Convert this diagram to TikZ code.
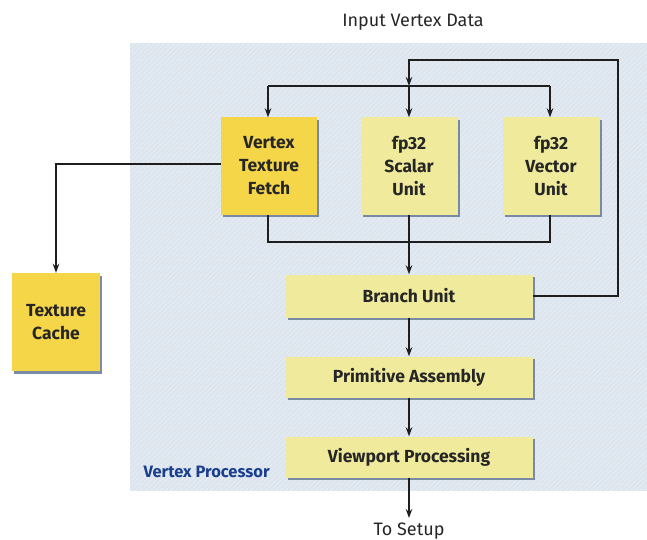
\documentclass[tikz,border=0pt]{standalone}
\usepackage{fontspec}
\setmainfont{Fira Sans}
\usetikzlibrary{arrows.meta,shadows,patterns}
\definecolor{panelblue}{HTML}{DCE5EE}
\definecolor{strongyellow}{HTML}{F6D649}
\definecolor{paleyellow}{HTML}{F0EB9C}
\definecolor{shadowblue}{HTML}{6F7F9C}
\definecolor{vpblue}{HTML}{1B3F8F}
\definecolor{linecol}{HTML}{1E1E1E}
\tikzset{
  unit/.style={draw=none, align=center, font=\fontsize{17.5}{23}\selectfont\bfseries, text=black!85,
    drop shadow={shadow xshift=2pt, shadow yshift=-2.5pt, fill=shadowblue, opacity=0.9}},
  hotunit/.style={unit, fill=strongyellow},
  paleunit/.style={unit, fill=paleyellow},
  conn/.style={draw=linecol, line width=1.4pt},
  arr/.style={conn, -{Stealth[length=9pt,width=6.5pt]}},
  plain/.style={font=\fontsize{18}{20}\selectfont, text=black!85}
}
\begin{document}
\begin{tikzpicture}[x=1pt,y=-1pt]
\useasboundingbox (0,0) rectangle (647,540);
% panel
\fill[panelblue] (130,43) rectangle (647,491);
\begin{scope}
\clip (130,43) rectangle (647,491);
\foreach \i in {0,5,...,1000} {
  \draw[white, opacity=0.35, line width=0.8pt] (130+\i-460,491) -- (130+\i,43);
}
\end{scope}
\node[plain] (input) at (413,22) {Input Vertex Data};
\node[font=\fontsize{16.5}{18}\selectfont\bfseries, text=vpblue, anchor=west] (vp) at (140,472) {Vertex Processor};
% units
\node[hotunit, minimum width=96pt, minimum height=97pt] (vtf) at (269,166) {Vertex\\Texture\\Fetch};
\node[paleunit, minimum width=97pt, minimum height=97pt] (scal) at (409,166) {fp32\\Scalar\\Unit};
\node[paleunit, minimum width=97pt, minimum height=97pt] (vec) at (551,166) {fp32\\Vector\\Unit};
\node[paleunit, minimum width=247pt, minimum height=43pt] (branch) at (409,296) {Branch Unit};
\node[paleunit, minimum width=247pt, minimum height=41pt] (prim) at (409,377) {Primitive Assembly};
\node[paleunit, minimum width=247pt, minimum height=41pt] (view) at (409,457) {Viewport Processing};
\node[hotunit, minimum width=88pt, minimum height=98pt] (cache) at (56,322) {Texture\\Cache};
\node[plain] (setup) at (409,531) {To Setup};
% coordinates
\coordinate (loopR) at (618,296);
\coordinate (loopT) at (409,60);
\coordinate (split) at (409,86);
\coordinate (splitL) at (268,86);
\coordinate (splitR) at (550,86);
\coordinate (joinY) at (409,242);
\coordinate (cacheCorner) at (56,164);
\coordinate (outEnd) at (409,518);
% connectors
\draw[arr] (branch.east) -- (loopR) |- (loopT) -- (split);
\draw[conn] (splitL) -- (splitR);
\draw[arr] (splitL) -- (splitL |- vtf.north);
\draw[arr] (split) -- (scal.north);
\draw[arr] (splitR) -- (splitR |- vec.north);
\draw[conn] (splitL |- vtf.south) -- (splitL |- joinY) -| (splitR |- vec.south);
\draw[arr] (scal.south) -- (branch.north);
\draw[arr] (branch.south) -- (prim.north);
\draw[arr] (prim.south) -- (view.north);
\draw[arr] (view.south) -- (outEnd);
\draw[arr] (vtf.west |- cacheCorner) -- (cacheCorner) -- (cache.north);
\end{tikzpicture}
\end{document}
